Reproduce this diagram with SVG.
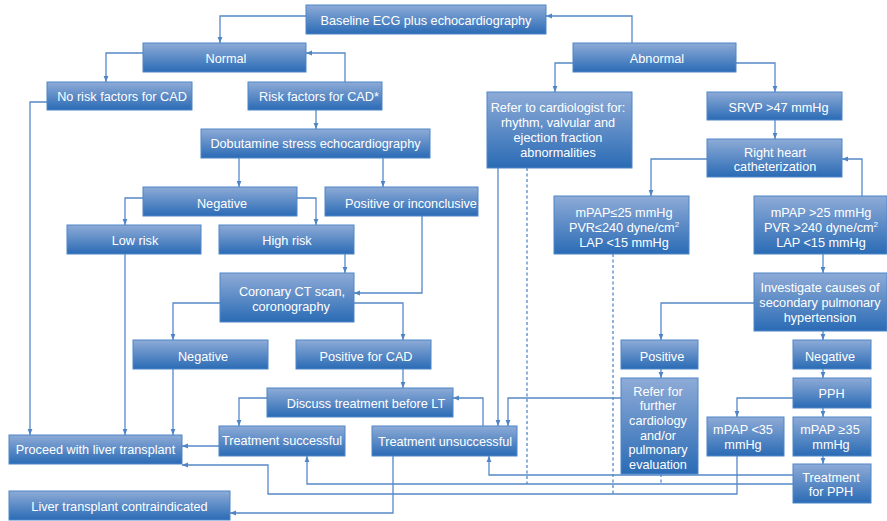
<svg xmlns="http://www.w3.org/2000/svg" width="887" height="521" viewBox="0 0 887 521">
<defs>
<linearGradient id="g" x1="0" y1="0" x2="0" y2="1">
<stop offset="0" stop-color="#8eabd7"/>
<stop offset="1" stop-color="#2a6bb5"/>
</linearGradient>
<marker id="a" viewBox="0 0 6 6" refX="6" refY="3" markerWidth="6" markerHeight="6" markerUnits="userSpaceOnUse" orient="auto">
<path d="M0,0.6 L6,3 L0,5.4 Z" fill="#4f84c5"/>
</marker>
<style>
.b{fill:url(#g);stroke:#4f86c8;stroke-width:1}
.t{font-family:"Liberation Sans",Arial,sans-serif;font-size:12.7px;fill:#ffffff;text-anchor:middle}
.c path{fill:none;stroke:#5588c8;stroke-width:1.3;marker-end:url(#a)}
.d path{fill:none;stroke:#5588c8;stroke-width:1.3;stroke-dasharray:3,2.5}
.s{font-size:8px}
</style>
</defs>
<rect width="887" height="521" fill="#ffffff"/>

<g id="connectors" class="c">
<path d="M306,16 H220 V43"/>
<path d="M632,43 V16 H546"/>
<path d="M143,53 H106 V82"/>
<path d="M345,82 V53 H306"/>
<path d="M316,110 V129"/>
<path d="M47,102 H30 V435"/>
<path d="M239,158 V187"/>
<path d="M383,158 V187"/>
<path d="M143,198 H125 V225"/>
<path d="M297,198 H316 V225"/>
<path d="M345,254 V273"/>
<path d="M422,216 V293 H354"/>
<path d="M220,303 H173 V340"/>
<path d="M354,303 H403 V340"/>
<path d="M125,254 V435"/>
<path d="M173,369 V435"/>
<path d="M403,369 V388"/>
<path d="M267,398 H239 V426"/>
<path d="M219,446 H182"/>
<path d="M483,426 V398 H453"/>
<path d="M498,168 V426"/>
<path d="M621,398 H508 V426"/>
<path d="M393,456 V513 H230"/>
<path d="M573,63 H555 V92"/>
<path d="M736,63 H775 V92"/>
<path d="M775,120 V139"/>
<path d="M707,159 H651 V196"/>
<path d="M862,196 V159 H842"/>
<path d="M823,254 V273"/>
<path d="M754,303 H661 V340"/>
<path d="M823,331 V340"/>
<path d="M661,369 V378"/>
<path d="M823,369 V378"/>
<path d="M793,398 H737 V417"/>
<path d="M823,408 V417"/>
<path d="M823,456 V464"/>
<path d="M793,475 H489 V456"/>
<path d="M793,484 H307 V456"/>
<path d="M737,456 V494 H268 V465 H182"/>
</g>
<g id="dotted" class="d">
<path d="M527,168 V484"/>
<path d="M613,254 V494"/>
<path d="M661,474 V484"/>
</g>

<g id="baseline"><rect class="b" x="306" y="5" width="240" height="29"/><text class="t" x="426" y="24.5">Baseline ECG plus echocardiography</text></g>
<g id="normal"><rect class="b" x="143" y="43" width="163" height="29"/><text class="t" x="226" y="62.5">Normal</text></g>
<g id="abnormal"><rect class="b" x="573" y="43" width="163" height="29"/><text class="t" x="657" y="62.5">Abnormal</text></g>
<g id="norisk"><rect class="b" x="47" y="82" width="145" height="28"/><text class="t" x="122" y="101">No risk factors for CAD</text></g>
<g id="risk"><rect class="b" x="248" y="82" width="134" height="28"/><text class="t" x="319" y="101">Risk factors for CAD*</text></g>
<g id="dobutamine"><rect class="b" x="201" y="129" width="229" height="29"/><text class="t" x="315.5" y="148">Dobutamine stress echocardiography</text></g>
<g id="refercard"><rect class="b" x="487" y="92" width="145" height="76"/><text class="t" y="111.5"><tspan x="558">Refer to cardiologist for:</tspan><tspan x="558" dy="15">rhythm, valvular and</tspan><tspan x="558" dy="15">ejection fraction</tspan><tspan x="558" dy="15">abnormalities</tspan></text></g>
<g id="srvp"><rect class="b" x="707" y="92" width="135" height="28"/><text class="t" x="778.5" y="111.5">SRVP &gt;47 mmHg</text></g>
<g id="rhc"><rect class="b" x="707" y="139" width="135" height="38"/><text class="t" y="156.5"><tspan x="775">Right heart</tspan><tspan x="775" dy="14.5">catheterization</tspan></text></g>
<g id="negative1"><rect class="b" x="143" y="187" width="154" height="29"/><text class="t" x="222" y="207.5">Negative</text></g>
<g id="posinc"><rect class="b" x="325" y="187" width="153" height="29"/><text class="t" x="411" y="207.5">Positive or inconclusive</text></g>
<g id="mpaple"><rect class="b" x="554" y="196" width="135" height="58"/><text class="t" y="216.5"><tspan x="624">mPAP≤25 mmHg</tspan><tspan x="624" dy="15">PVR≤240 dyne/cm<tspan class="s" dy="-5">2</tspan></tspan><tspan x="624" dy="20">LAP &lt;15 mmHg</tspan></text></g>
<g id="mpapgt"><rect class="b" x="754" y="196" width="133" height="58"/><text class="t" y="216.5"><tspan x="821">mPAP &gt;25 mmHg</tspan><tspan x="821" dy="15">PVR &gt;240 dyne/cm<tspan class="s" dy="-5">2</tspan></tspan><tspan x="821" dy="20">LAP &lt;15 mmHg</tspan></text></g>
<g id="lowrisk"><rect class="b" x="67" y="225" width="134" height="29"/><text class="t" x="135" y="244.5">Low risk</text></g>
<g id="highrisk"><rect class="b" x="219" y="225" width="135" height="29"/><text class="t" x="287" y="244.5">High risk</text></g>
<g id="coronary"><rect class="b" x="220" y="273" width="134" height="49"/><text class="t" y="295.5"><tspan x="292">Coronary CT scan,</tspan><tspan x="291" dy="15">coronography</tspan></text></g>
<g id="investigate"><rect class="b" x="754" y="273" width="133" height="58"/><text class="t" y="291.5"><tspan x="820">Investigate causes of</tspan><tspan x="820" dy="15">secondary pulmonary</tspan><tspan x="820" dy="15">hypertension</tspan></text></g>
<g id="negative2"><rect class="b" x="133" y="340" width="135" height="29"/><text class="t" x="203" y="360.5">Negative</text></g>
<g id="poscad"><rect class="b" x="296" y="340" width="135" height="29"/><text class="t" x="366" y="360.5">Positive for CAD</text></g>
<g id="positive"><rect class="b" x="621" y="340" width="77" height="29"/><text class="t" x="662" y="360.5">Positive</text></g>
<g id="negative3"><rect class="b" x="793" y="340" width="78" height="29"/><text class="t" x="830" y="360.5">Negative</text></g>
<g id="discuss"><rect class="b" x="267" y="388" width="186" height="29"/><text class="t" x="366" y="407.5">Discuss treatment before LT</text></g>
<g id="referfurther"><rect class="b" x="621" y="378" width="77" height="96"/><text class="t" y="395.5"><tspan x="658">Refer for</tspan><tspan x="658" dy="14.7">further</tspan><tspan x="658" dy="14.7">cardiology</tspan><tspan x="658" dy="14.7">and/or</tspan><tspan x="658" dy="14.7">pulmonary</tspan><tspan x="658" dy="14.7">evaluation</tspan></text></g>
<g id="pph"><rect class="b" x="793" y="378" width="78" height="30"/><text class="t" x="831.5" y="397.5">PPH</text></g>
<g id="mpaplt35"><rect class="b" x="707" y="417" width="77" height="39"/><text class="t" y="433.5"><tspan x="743">mPAP &lt;35</tspan><tspan x="743" dy="15.5">mmHg</tspan></text></g>
<g id="mpapge35"><rect class="b" x="793" y="417" width="78" height="39"/><text class="t" y="433.5"><tspan x="830">mPAP ≥35</tspan><tspan x="831" dy="15.5">mmHg</tspan></text></g>
<g id="tsuccess"><rect class="b" x="219" y="426" width="126" height="30"/><text class="t" x="282" y="444.5">Treatment successful</text></g>
<g id="tunsuccess"><rect class="b" x="372" y="426" width="145" height="30"/><text class="t" x="445" y="445.5">Treatment unsuccessful</text></g>
<g id="proceed"><rect class="b" x="9" y="435" width="173" height="29"/><text class="t" x="95.5" y="453.5">Proceed with liver transplant</text></g>
<g id="tpph"><rect class="b" x="793" y="464" width="78" height="39"/><text class="t" y="481.5"><tspan x="831">Treatment</tspan><tspan x="831" dy="14.5">for PPH</tspan></text></g>
<g id="contra"><rect class="b" x="9" y="491" width="221" height="29"/><text class="t" x="119.5" y="510.5">Liver transplant contraindicated</text></g>
</svg>
